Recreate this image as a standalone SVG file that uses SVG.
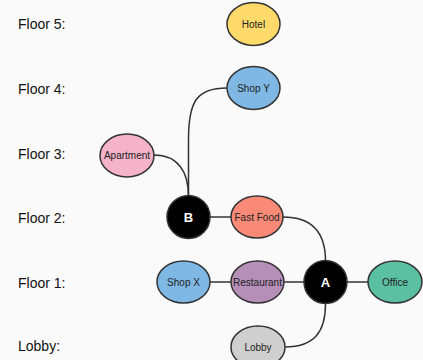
<svg xmlns="http://www.w3.org/2000/svg" width="423" height="360" viewBox="0 0 423 360">
<style>
.lbl{font-family:"Liberation Sans",Arial,sans-serif;font-size:14px;fill:#111}
.node ellipse,.node circle{stroke:#333;stroke-width:1.5}
.nt{font-family:"Liberation Sans",Arial,sans-serif;font-size:10px;fill:#222;text-anchor:middle;dominant-baseline:central}
.ht{font-family:"Liberation Sans",Arial,sans-serif;font-size:13px;font-weight:bold;fill:#fff;text-anchor:middle;dominant-baseline:central}
.edge{fill:none;stroke:#333;stroke-width:1.5}
</style>
<rect width="423" height="360" fill="#fafafa"/>
<g id="floor-labels">
<text class="lbl" x="18" y="29">Floor 5:</text>
<text class="lbl" x="18" y="94">Floor 4:</text>
<text class="lbl" x="18" y="159">Floor 3:</text>
<text class="lbl" x="18" y="223">Floor 2:</text>
<text class="lbl" x="18" y="288">Floor 1:</text>
<text class="lbl" x="18" y="351">Lobby:</text>
</g>
<g id="connectors">
<path class="edge" d="M227,88 C196,88 188.5,102 188.5,140 L188.5,196"/>
<path class="edge" d="M154,155 C178,155 188.5,172 188.5,196"/>
<path class="edge" d="M210,217 L231,217"/>
<path class="edge" d="M283,217 C313,217 325.5,234 325.5,261"/>
<path class="edge" d="M210,282 L231,282"/>
<path class="edge" d="M284,282 L304,282"/>
<path class="edge" d="M347,282 L368,282"/>
<path class="edge" d="M325.5,304 C325.5,332 314,347 285,347"/>
</g>
<g id="hotel" class="node"><ellipse cx="253.5" cy="24" rx="26.5" ry="21.5" fill="#fdda6a"/><text class="nt" x="253.5" y="24">Hotel</text></g>
<g id="shop-y" class="node"><ellipse cx="253.5" cy="88" rx="26.5" ry="21.5" fill="#7fb8e5"/><text class="nt" x="253.5" y="88">Shop Y</text></g>
<g id="apartment" class="node"><ellipse cx="127" cy="155.5" rx="27" ry="21.5" fill="#f4b3c9"/><text class="nt" x="127" y="155.5">Apartment</text></g>
<g id="b" class="node"><circle cx="188.5" cy="217" r="21.5" fill="#000"/><text class="ht" x="188.5" y="217">B</text></g>
<g id="fast-food" class="node"><ellipse cx="257" cy="217" rx="26" ry="21" fill="#fa8a78"/><text class="nt" x="257" y="217">Fast Food</text></g>
<g id="shop-x" class="node"><ellipse cx="183.5" cy="282" rx="26.5" ry="21" fill="#7fb8e5"/><text class="nt" x="183.5" y="282">Shop X</text></g>
<g id="restaurant" class="node"><ellipse cx="257.5" cy="282" rx="26.5" ry="21" fill="#b58fb8"/><text class="nt" x="257.5" y="282">Restaurant</text></g>
<g id="a" class="node"><circle cx="325.5" cy="282" r="21.5" fill="#000"/><text class="ht" x="325.5" y="282">A</text></g>
<g id="office" class="node"><ellipse cx="395" cy="282" rx="27" ry="21" fill="#5bbfa2"/><text class="nt" x="395" y="282">Office</text></g>
<g id="lobby" class="node"><ellipse cx="258" cy="347" rx="27" ry="21" fill="#cfcfcf"/><text class="nt" x="258" y="347">Lobby</text></g>
</svg>
